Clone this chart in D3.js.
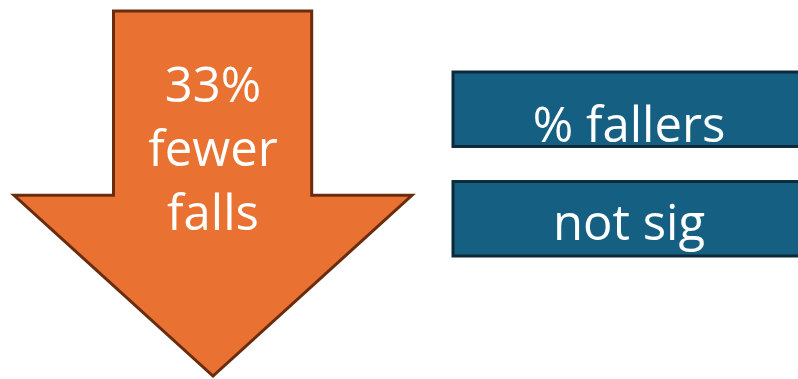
<!DOCTYPE html>
<html>
<head>
<meta charset="utf-8">
<script src="https://cdn.jsdelivr.net/npm/d3@7"></script>
<style>
  html, body { margin: 0; padding: 0; background: #fff; }
  svg { display: block; }
  text { font-family: "Open Sans", "Noto Sans", sans-serif; fill: #fff; }
</style>
</head>
<body>
<svg id="chart"></svg>
<script>
// Dados do gráfico
const arrowLines = ["33%", "fewer", "falls"]; // texto da seta
const boxLabels = ["% fallers", "not sig"];    // texto das caixas

const width = 798;
const height = 379;

const svg = d3.select("#chart")
    .attr("width", width)
    .attr("height", height);

// Seta (coordenadas em unidades 0..1 mapeadas por escalas)
const ax = d3.scaleLinear().domain([0, 1]).range([14, 412]);
const ay = d3.scaleLinear().domain([0, 1]).range([11, 376]);
const shaftL = 0.25, shaftR = 0.748, shoulder = 0.505;

const arrowPts = [
    [shaftL, 0], [shaftR, 0], [shaftR, shoulder], [1, shoulder],
    [0.5, 1], [0, shoulder], [shaftL, shoulder]
];

svg.append("path")
    .attr("d", d3.line().x(d => ax(d[0])).y(d => ay(d[1]))(arrowPts) + "Z")
    .attr("fill", "#e97132")
    .attr("stroke", "#6a2c0e")
    .attr("stroke-width", 3)
    .attr("stroke-linejoin", "miter");

const lineY = d3.scalePoint().domain(arrowLines).range([102, 230]);
svg.append("g")
    .selectAll("text")
    .data(arrowLines)
    .enter().append("text")
    .attr("x", ax(0.5))
    .attr("y", d => lineY(d))
    .attr("text-anchor", "middle")
    .attr("font-size", 49)
    .text(d => d);

// Caixas
const boxY = d3.scaleBand().domain(boxLabels).range([72, 256]).paddingInner(0.32);

const box = svg.append("g")
    .selectAll("g")
    .data(boxLabels)
    .enter().append("g");

box.append("rect")
    .attr("x", 453)
    .attr("y", d => boxY(d))
    .attr("width", 360)
    .attr("height", boxY.bandwidth())
    .attr("fill", "#156082")
    .attr("stroke", "#0c2a3a")
    .attr("stroke-width", 3);

box.append("text")
    .attr("x", 629)
    .attr("y", (d, i) => boxY(d) + boxY.bandwidth() - (i === 0 ? 4 : 16))
    .attr("text-anchor", "middle")
    .attr("font-size", 49)
    .text(d => d);
</script>
</body>
</html>
